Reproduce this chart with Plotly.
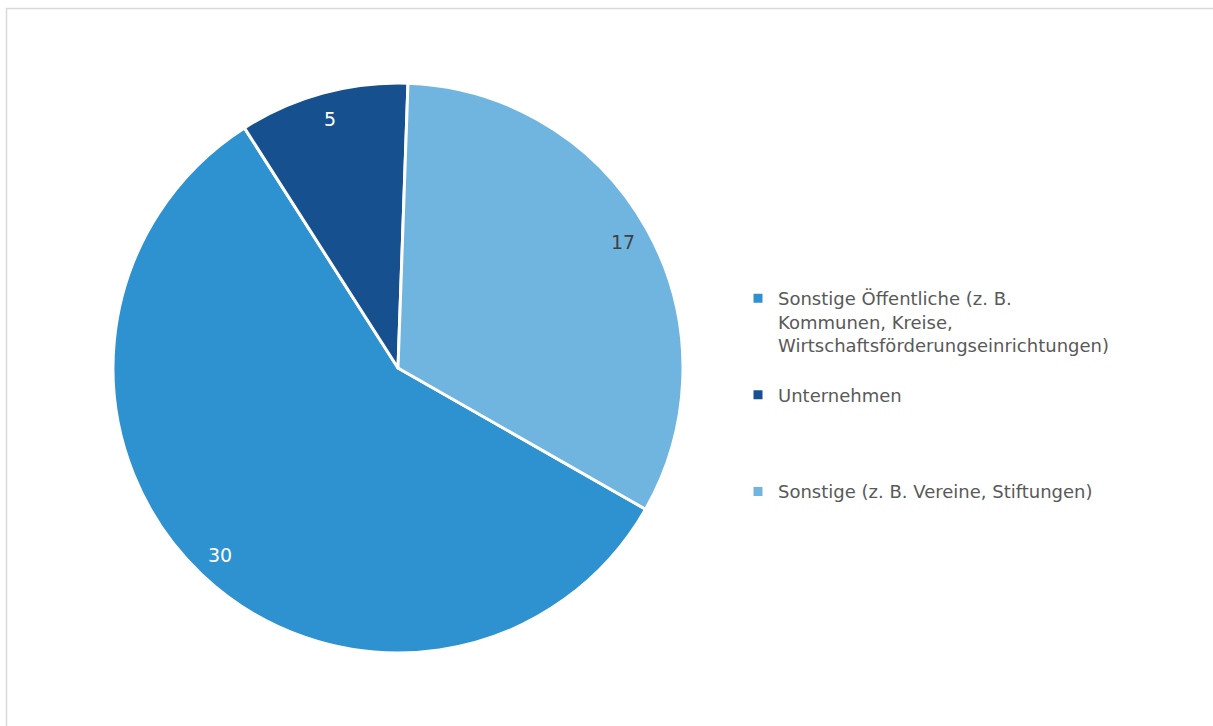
import math
import plotly.graph_objects as go

# Participants by type of organisation
labels = [
    "Sonstige Öffentliche (z. B.<br>Kommunen, Kreise,<br>Wirtschaftsförderungseinrichtungen)<br> ",
    "Unternehmen<br> <br> <br> ",
    "Sonstige (z. B. Vereine, Stiftungen)",
]
values = [30, 5, 17]
colors = ["#2E92D0", "#17508F", "#70B5E0"]
text_colors = ["#FFFFFF", "#FFFFFF", "#404040"]

W, H = 1213, 726
FONT = "DejaVu Sans"
ROTATION = 119.7          # clockwise start angle of the first slice, degrees from 12 o'clock
CX, CY, R = 398, 358, 285  # pie centre (from bottom) and radius in pixels
LABEL_R = 0.905           # data labels sit near the rim

fig = go.Figure(
    go.Pie(
        labels=labels,
        values=values,
        sort=False,
        direction="clockwise",
        rotation=ROTATION,
        marker=dict(colors=colors, line=dict(color="#FFFFFF", width=3)),
        textinfo="none",
        hoverinfo="label+value",
        domain=dict(x=[(CX - R) / W, (CX + R) / W],
                    y=[(CY - R) / H, (CY + R) / H]),
    )
)

# value labels placed on each slice's bisector
total = sum(values)
annotations = []
start = ROTATION
for v, tc in zip(values, text_colors):
    sweep = 360.0 * v / total
    mid = math.radians(start + sweep / 2)
    annotations.append(dict(
        xref="paper", yref="paper",
        x=(CX + LABEL_R * R * math.sin(mid)) / W,
        y=(CY + LABEL_R * R * math.cos(mid)) / H,
        text=str(v),
        showarrow=False,
        xanchor="center", yanchor="middle",
        font=dict(family=FONT, size=19, color=tc),
    ))
    start += sweep

fig.update_layout(
    width=W,
    height=H,
    margin=dict(l=0, r=0, t=0, b=0),
    paper_bgcolor="#FFFFFF",
    font=dict(family=FONT, size=18, color="#595959"),
    showlegend=True,
    legend=dict(
        x=738 / W,
        y=1 - 280 / H,
        xanchor="left",
        yanchor="top",
        valign="top",
        font=dict(family=FONT, size=18, color="#595959"),
        bgcolor="rgba(0,0,0,0)",
    ),
    annotations=annotations,
    shapes=[
        dict(
            type="rect",
            xref="paper", yref="paper",
            x0=6.5 / W, x1=1.02,
            y0=-0.02, y1=1 - 8.5 / H,
            line=dict(color="#D9D9D9", width=1.5),
            fillcolor="rgba(0,0,0,0)",
            layer="below",
        )
    ],
)

fig.write_html("out.html")
